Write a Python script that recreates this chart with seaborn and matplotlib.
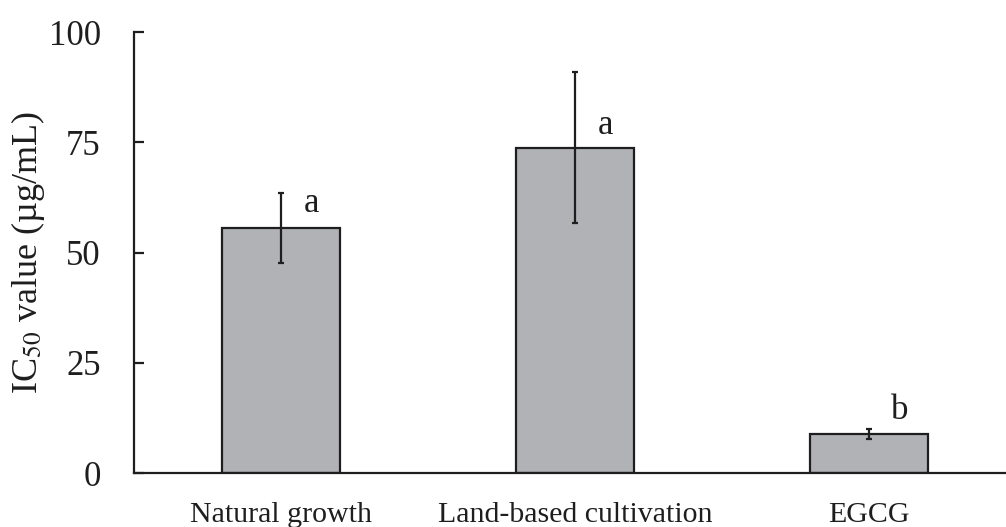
import pandas as pd
import matplotlib
matplotlib.use("Agg")
import matplotlib.pyplot as plt
import seaborn as sns

groups = ["Natural growth", "Land-based cultivation", "EGCG"]
ic50 = [55.6, 73.8, 8.9]
ic50_err = [8.0, 17.1, 1.1]
letters = ["a", "a", "b"]
letter_y = [61.2, 78.9, 14.1]

df = pd.DataFrame({"group": groups, "ic50": ic50})

sns.set_style("white")
plt.rcParams["font.family"] = ["Liberation Serif", "DejaVu Serif"]
plt.rcParams["mathtext.fontset"] = "stix"

fig = plt.figure(figsize=(10.06, 5.27), dpi=100)
ax = fig.add_axes([134 / 1006, 54 / 527, 872 / 1006, 441 / 527])

sns.barplot(data=df, x="group", y="ic50", color="#b1b2b6", saturation=1,
            width=0.4, edgecolor="#1e1e1e", linewidth=1.6, errorbar=None, ax=ax)
ax.errorbar(range(len(groups)), ic50, yerr=ic50_err, fmt="none",
            ecolor="#1e1e1e", elinewidth=1.6, capsize=2.5, capthick=1.6)
for i, (lab, ly) in enumerate(zip(letters, letter_y)):
    ax.text(i + 0.105, ly, lab, ha="center", va="center", fontsize=25, color="#1e1e1e")

ax.set_xlim(-0.5, 2.466)
ax.set_ylim(0, 100)
ax.set_yticks([0, 25, 50, 75, 100])
ax.set_xlabel("")
ax.set_ylabel(r"IC$_{\mathrm{50}}$ value (µg/mL)", fontsize=26, color="#1e1e1e")
ax.yaxis.set_label_coords(-0.1, 0.5)

sns.despine(ax=ax)
for s in ["left", "bottom"]:
    ax.spines[s].set_linewidth(1.6)
    ax.spines[s].set_color("#1e1e1e")
ax.tick_params(axis="y", left=True, direction="in", length=7.5, width=1.6, color="#1e1e1e",
               labelsize=25, pad=24, labelcolor="#1e1e1e")
ax.tick_params(axis="x", bottom=False, length=0, labelsize=21.5, pad=21, labelcolor="#1e1e1e")

fig.savefig("out.png", dpi=100)
